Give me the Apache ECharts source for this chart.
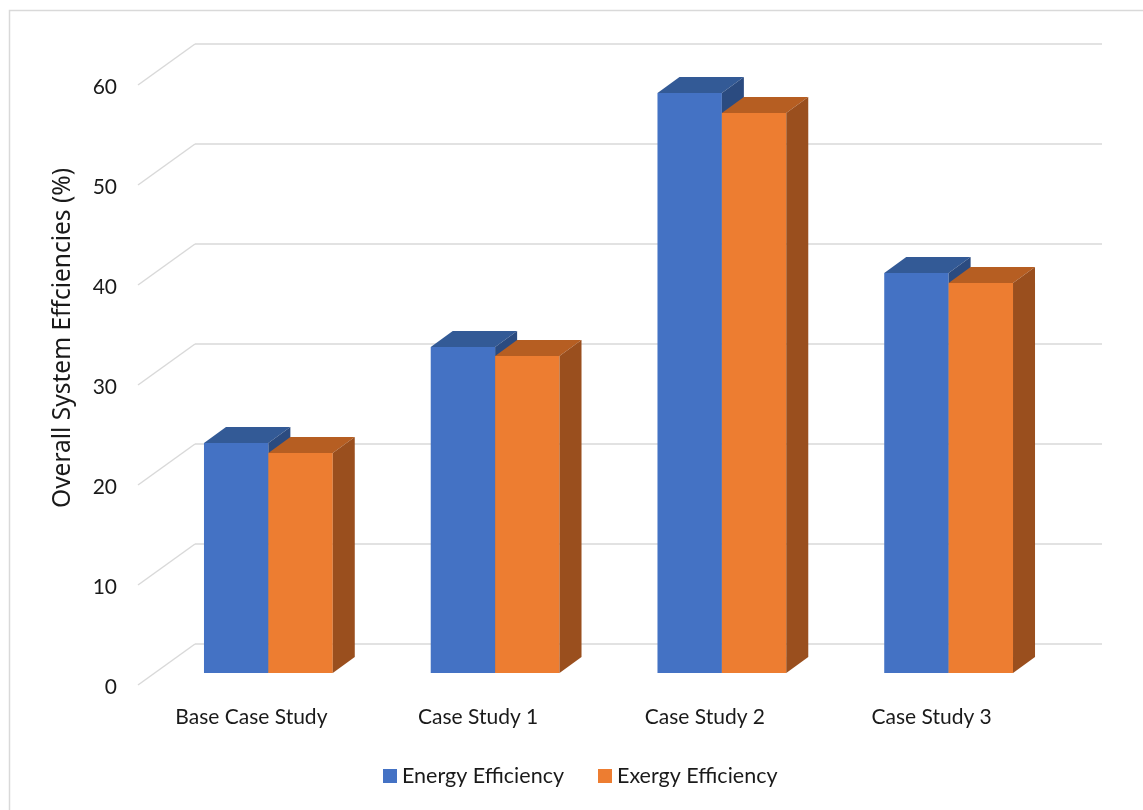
<!DOCTYPE html>
<html>
<head>
<meta charset="utf-8">
<title>Overall System Efficiencies</title>
<script src="https://cdn.jsdelivr.net/npm/echarts@6/dist/echarts.min.js"></script>
<style>
  html, body { margin: 0; padding: 0; background: #ffffff; }
  #chart { width: 1143px; height: 810px; }
</style>
</head>
<body>
<div id="chart"></div>
<script>
// Data
const categories = ['Base Case Study', 'Case Study 1', 'Case Study 2', 'Case Study 3'];
const energyEfficiency = [23.0, 32.6, 58.0, 40.0];
const exergyEfficiency = [22.0, 31.7, 56.0, 39.0];
const yTicks = [0, 10, 20, 30, 40, 50, 60];

// Oblique projection: depth of the floor (front edge relative to back wall)
const FLOOR_DX = -57, FLOOR_DY = 41;
// Bars stand this far in front of the back wall
const BAR_DX = -40, BAR_DY = 29;
// Bar thickness (depth) drawn toward the back wall
const DEPTH_DX = 22, DEPTH_DY = -16;
const BAR_FRACTION = 0.284;

const FONT = 'Lato';
const TITLE_FONT = 'Noto Sans';

const palette = {
  energy: { front: '#4472C4', top: '#335A96', side: '#2B4B80' },
  exergy: { front: '#ED7D31', top: '#B65E22', side: '#9A4F1E' }
};

function barRenderer(colors, leftSide) {
  return function (params, api) {
    const cat = api.value(0);
    const top = api.coord([cat, api.value(1)]);
    const base = api.coord([cat, 0]);
    const band = api.size([1, 0])[0];
    const w = band * BAR_FRACTION;
    const x0 = top[0] + BAR_DX + (leftSide ? -w : 0);
    const yT = top[1] + BAR_DY;
    const yB = base[1] + BAR_DY;
    return {
      type: 'group',
      children: [
        { type: 'rect', shape: { x: x0, y: yT, width: w, height: yB - yT },
          style: { fill: colors.front } },
        { type: 'polygon', shape: { points: [
            [x0, yT], [x0 + w, yT], [x0 + w + DEPTH_DX, yT + DEPTH_DY], [x0 + DEPTH_DX, yT + DEPTH_DY]
          ] }, style: { fill: colors.top } },
        { type: 'polygon', shape: { points: [
            [x0 + w, yT], [x0 + w + DEPTH_DX, yT + DEPTH_DY], [x0 + w + DEPTH_DX, yB + DEPTH_DY], [x0 + w, yB]
          ] }, style: { fill: colors.side } }
      ]
    };
  };
}

// Side-wall gridlines running from the back wall toward the viewer
function sideLineRenderer(params, api) {
  const p = api.coord([0, api.value(0)]);
  const x = params.coordSys.x;
  return {
    type: 'line',
    shape: { x1: x, y1: p[1], x2: x + FLOOR_DX, y2: p[1] + FLOOR_DY },
    style: { stroke: '#d9d9d9', lineWidth: 1.5 }
  };
}

const chart = echarts.init(document.getElementById('chart'), null, { renderer: 'canvas' });

chart.setOption({
  backgroundColor: '#ffffff',
  animation: false,
  graphic: [{
    type: 'rect', left: 7, top: 8, z: -10,
    shape: { width: 1200, height: 900 },
    style: { fill: 'none', stroke: '#d9d9d9', lineWidth: 1.5 }
  }],
  grid: [
    // back wall
    { left: 195, top: 44, width: 907, height: 600 },
    // front plane (axis labels)
    { left: 138, top: 87, width: 907, height: 600 }
  ],
  xAxis: [
    { type: 'category', gridIndex: 0, data: categories,
      axisLine: { show: false }, axisTick: { show: false }, axisLabel: { show: false } },
    { type: 'category', gridIndex: 1, data: categories,
      axisLine: { show: false }, axisTick: { show: false },
      axisLabel: { color: '#1a1a1a', fontSize: 21, fontFamily: FONT, margin: 20 } }
  ],
  yAxis: [
    { type: 'value', gridIndex: 0, min: 0, max: 60, interval: 10,
      axisLine: { show: false }, axisTick: { show: false }, axisLabel: { show: false },
      splitLine: { show: true, lineStyle: { color: '#d9d9d9', width: 1.5 } },
      name: 'Overall System Effciencies (%)', nameLocation: 'middle', nameGap: 119,
      nameTextStyle: { color: '#1a1a1a', fontSize: 24.5, fontFamily: TITLE_FONT,
                       padding: [0, 0, 0, 12] } },
    { type: 'value', gridIndex: 1, min: 0, max: 60, interval: 10,
      axisLine: { show: false }, axisTick: { show: false }, splitLine: { show: false },
      axisLabel: { color: '#1a1a1a', fontSize: 21, fontFamily: FONT, margin: 21,
                   formatter: function (v) { return yTicks.indexOf(v) >= 0 ? String(v) : ''; } } }
  ],
  legend: {
    left: 378, top: 760,
    itemWidth: 14, itemHeight: 14, itemGap: 34,
    icon: 'rect',
    textStyle: { color: '#1a1a1a', fontSize: 21.5, fontFamily: FONT },
    data: ['Energy Efficiency', 'Exergy Efficiency']
  },
  series: [
    {
      type: 'custom', name: 'walls', xAxisIndex: 0, yAxisIndex: 0, z: 1,
      renderItem: sideLineRenderer,
      data: yTicks.map(v => [v]),
      encode: { y: 0 },
      silent: true
    },
    {
      type: 'custom', name: 'Energy Efficiency', xAxisIndex: 0, yAxisIndex: 0, z: 3,
      itemStyle: { color: palette.energy.front },
      renderItem: barRenderer(palette.energy, true),
      data: energyEfficiency.map((v, i) => [i, v]),
      encode: { x: 0, y: 1 }
    },
    {
      type: 'custom', name: 'Exergy Efficiency', xAxisIndex: 0, yAxisIndex: 0, z: 4,
      itemStyle: { color: palette.exergy.front },
      renderItem: barRenderer(palette.exergy, false),
      data: exergyEfficiency.map((v, i) => [i, v]),
      encode: { x: 0, y: 1 }
    }
  ]
});
</script>
</body>
</html>
